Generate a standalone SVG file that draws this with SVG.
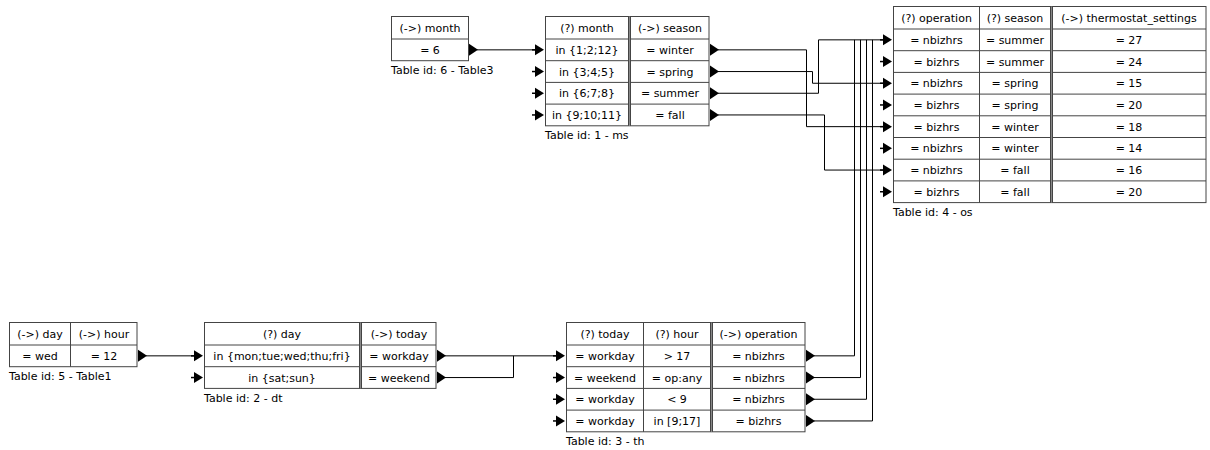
<svg xmlns="http://www.w3.org/2000/svg" xmlns:xlink="http://www.w3.org/1999/xlink" width="1210" height="450" viewBox="0 0 1210 450">
  <style>
    text { font-family: "DejaVu Sans", "Liberation Sans", sans-serif; font-size: 11px; fill: #000; }
    .c { text-anchor: middle; }
    .frame { fill: #fff; stroke: #444; stroke-width: 1; }
    .sep { stroke: #444; stroke-width: 1; fill: none; }
    .dbl { stroke: #888; stroke-width: 1; fill: none; }
    .wire { stroke: #000; stroke-width: 1; fill: none; }
    .tip { fill: #000; }
  </style>
  <defs>
    <!-- input marker: short tail plus a filled triangle, tip at the origin -->
    <g id="inArrow">
      <line x1="-13" y1="0" x2="-9" y2="0" stroke="#000" stroke-width="1.5"/>
      <path class="tip" d="M-10,-5.5 L-1,0 L-10,5.5 Z"/>
    </g>
    <!-- output marker: larger filled triangle, base at the origin -->
    <path id="outArrow" class="tip" d="M1,-6 L10,0 L1,6 Z"/>
  </defs>

  <!-- connectors -->
  <g id="connectors">
    <path class="wire" d="M477,49.85 H537"/>
    <path class="wire" d="M718,49.85 H806.5 V126.65 H885"/>
    <path class="wire" d="M718,71.55 H812.5 V83.25 H885"/>
    <path class="wire" d="M718,93.25 H818.5 V39.85 H885"/>
    <path class="wire" d="M718,114.95 H824.5 V170.05 H885"/>
    <path class="wire" d="M146,355.85 H196"/>
    <path class="wire" d="M445,355.85 H558"/>
    <path class="wire" d="M445,377.55 H513.5 V355.85"/>
    <path class="wire" d="M814,355.85 H854.5 V39.85"/>
    <path class="wire" d="M814,377.55 H860.5 V39.85"/>
    <path class="wire" d="M814,399.25 H866.5 V39.85"/>
    <path class="wire" d="M814,420.95 H872.5 V39.85"/>
  </g>

  <!-- Table 6: month -->
  <g id="table6">
    <rect class="frame" x="391.5" y="16.5" width="77" height="44.2"/>
    <line class="sep" x1="391.5" y1="39" x2="468.5" y2="39"/>
    <text class="c" x="430" y="31.5">(-&gt;) month</text>
    <text class="c" x="430" y="54">= 6</text>
    <use xlink:href="#outArrow" x="468" y="49.85"/>
    <text x="391" y="73.5">Table id: 6 - Table3</text>
  </g>

  <!-- Table 1: ms -->
  <g id="table1">
    <rect class="frame" x="545.5" y="16.5" width="163.5" height="109.3"/>
    <path class="sep" d="M545.5,39 H709 M545.5,60.7 H709 M545.5,82.4 H709 M545.5,104.1 H709"/>
    <line class="sep" x1="628.5" y1="16.5" x2="628.5" y2="125.8"/>
    <line class="dbl" x1="629.5" y1="16.5" x2="629.5" y2="125.8"/>
    <line class="sep" x1="630.5" y1="16.5" x2="630.5" y2="125.8"/>
    <text class="c" x="587" y="31.5">(?) month</text>
    <text class="c" x="670" y="31.5">(-&gt;) season</text>
    <text class="c" x="587" y="53.85">in {1;2;12}</text>
    <text class="c" x="670" y="53.85">= winter</text>
    <text class="c" x="587" y="75.55">in {3;4;5}</text>
    <text class="c" x="670" y="75.55">= spring</text>
    <text class="c" x="587" y="97.25">in {6;7;8}</text>
    <text class="c" x="670" y="97.25">= summer</text>
    <text class="c" x="587" y="118.95">in {9;10;11}</text>
    <text class="c" x="670" y="118.95">= fall</text>
    <use xlink:href="#inArrow" x="545" y="49.85"/>
    <use xlink:href="#inArrow" x="545" y="71.55"/>
    <use xlink:href="#inArrow" x="545" y="93.25"/>
    <use xlink:href="#inArrow" x="545" y="114.95"/>
    <use xlink:href="#outArrow" x="709" y="49.85"/>
    <use xlink:href="#outArrow" x="709" y="71.55"/>
    <use xlink:href="#outArrow" x="709" y="93.25"/>
    <use xlink:href="#outArrow" x="709" y="114.95"/>
    <text x="545" y="138.5">Table id: 1 - ms</text>
  </g>

  <!-- Table 4: os -->
  <g id="table4">
    <rect class="frame" x="893.5" y="6.5" width="312.5" height="196.1"/>
    <path class="sep" d="M893.5,29 H1206 M893.5,50.7 H1206 M893.5,72.4 H1206 M893.5,94.1 H1206 M893.5,115.8 H1206 M893.5,137.5 H1206 M893.5,159.2 H1206 M893.5,180.9 H1206"/>
    <line class="sep" x1="979.5" y1="6.5" x2="979.5" y2="202.6"/>
    <line class="sep" x1="1050.5" y1="6.5" x2="1050.5" y2="202.6"/>
    <line class="dbl" x1="1051.5" y1="6.5" x2="1051.5" y2="202.6"/>
    <line class="sep" x1="1052.5" y1="6.5" x2="1052.5" y2="202.6"/>
    <text class="c" x="936.5" y="21.5">(?) operation</text>
    <text class="c" x="1015" y="21.5">(?) season</text>
    <text class="c" x="1129" y="21.5">(-&gt;) thermostat_settings</text>
    <g>
      <text class="c" x="936.5" y="43.85">= nbizhrs</text>
      <text class="c" x="1015" y="43.85">= summer</text>
      <text class="c" x="1129" y="43.85">= 27</text>
      <text class="c" x="936.5" y="65.55">= bizhrs</text>
      <text class="c" x="1015" y="65.55">= summer</text>
      <text class="c" x="1129" y="65.55">= 24</text>
      <text class="c" x="936.5" y="87.25">= nbizhrs</text>
      <text class="c" x="1015" y="87.25">= spring</text>
      <text class="c" x="1129" y="87.25">= 15</text>
      <text class="c" x="936.5" y="108.95">= bizhrs</text>
      <text class="c" x="1015" y="108.95">= spring</text>
      <text class="c" x="1129" y="108.95">= 20</text>
      <text class="c" x="936.5" y="130.65">= bizhrs</text>
      <text class="c" x="1015" y="130.65">= winter</text>
      <text class="c" x="1129" y="130.65">= 18</text>
      <text class="c" x="936.5" y="152.35">= nbizhrs</text>
      <text class="c" x="1015" y="152.35">= winter</text>
      <text class="c" x="1129" y="152.35">= 14</text>
      <text class="c" x="936.5" y="174.05">= nbizhrs</text>
      <text class="c" x="1015" y="174.05">= fall</text>
      <text class="c" x="1129" y="174.05">= 16</text>
      <text class="c" x="936.5" y="195.75">= bizhrs</text>
      <text class="c" x="1015" y="195.75">= fall</text>
      <text class="c" x="1129" y="195.75">= 20</text>
    </g>
    <use xlink:href="#inArrow" x="893" y="39.85"/>
    <use xlink:href="#inArrow" x="893" y="61.55"/>
    <use xlink:href="#inArrow" x="893" y="83.25"/>
    <use xlink:href="#inArrow" x="893" y="104.95"/>
    <use xlink:href="#inArrow" x="893" y="126.65"/>
    <use xlink:href="#inArrow" x="893" y="148.35"/>
    <use xlink:href="#inArrow" x="893" y="170.05"/>
    <use xlink:href="#inArrow" x="893" y="191.75"/>
    <text x="893" y="215.5">Table id: 4 - os</text>
  </g>

  <!-- Table 5: day / hour -->
  <g id="table5">
    <rect class="frame" x="9.5" y="322.5" width="127.5" height="44.2"/>
    <line class="sep" x1="9.5" y1="345" x2="137" y2="345"/>
    <line class="sep" x1="70.5" y1="322.5" x2="70.5" y2="366.7"/>
    <text class="c" x="40" y="337.5">(-&gt;) day</text>
    <text class="c" x="104" y="337.5">(-&gt;) hour</text>
    <text class="c" x="40" y="359.85">= wed</text>
    <text class="c" x="104" y="359.85">= 12</text>
    <use xlink:href="#outArrow" x="137" y="355.85"/>
    <text x="9" y="379.5">Table id: 5 - Table1</text>
  </g>

  <!-- Table 2: dt -->
  <g id="table2">
    <rect class="frame" x="204.5" y="322.5" width="231.5" height="65.9"/>
    <path class="sep" d="M204.5,345 H436 M204.5,366.7 H436"/>
    <line class="sep" x1="359.5" y1="322.5" x2="359.5" y2="388.4"/>
    <line class="dbl" x1="360.5" y1="322.5" x2="360.5" y2="388.4"/>
    <line class="sep" x1="361.5" y1="322.5" x2="361.5" y2="388.4"/>
    <text class="c" x="282" y="337.5">(?) day</text>
    <text class="c" x="399" y="337.5">(-&gt;) today</text>
    <text class="c" x="282" y="359.85">in {mon;tue;wed;thu;fri}</text>
    <text class="c" x="399" y="359.85">= workday</text>
    <text class="c" x="282" y="381.55">in {sat;sun}</text>
    <text class="c" x="399" y="381.55">= weekend</text>
    <use xlink:href="#inArrow" x="204" y="355.85"/>
    <use xlink:href="#inArrow" x="204" y="377.55"/>
    <use xlink:href="#outArrow" x="436" y="355.85"/>
    <use xlink:href="#outArrow" x="436" y="377.55"/>
    <text x="204" y="401.5">Table id: 2 - dt</text>
  </g>

  <!-- Table 3: th -->
  <g id="table3">
    <rect class="frame" x="566.5" y="322.5" width="238.5" height="109.3"/>
    <path class="sep" d="M566.5,345 H805 M566.5,366.7 H805 M566.5,388.4 H805 M566.5,410.1 H805"/>
    <line class="sep" x1="643.5" y1="322.5" x2="643.5" y2="431.8"/>
    <line class="sep" x1="710.5" y1="322.5" x2="710.5" y2="431.8"/>
    <line class="dbl" x1="711.5" y1="322.5" x2="711.5" y2="431.8"/>
    <line class="sep" x1="712.5" y1="322.5" x2="712.5" y2="431.8"/>
    <text class="c" x="605" y="337.5">(?) today</text>
    <text class="c" x="677" y="337.5">(?) hour</text>
    <text class="c" x="758.5" y="337.5">(-&gt;) operation</text>
    <text class="c" x="605" y="359.85">= workday</text>
    <text class="c" x="677" y="359.85">&gt; 17</text>
    <text class="c" x="758.5" y="359.85">= nbizhrs</text>
    <text class="c" x="605" y="381.55">= weekend</text>
    <text class="c" x="677" y="381.55">= op:any</text>
    <text class="c" x="758.5" y="381.55">= nbizhrs</text>
    <text class="c" x="605" y="403.25">= workday</text>
    <text class="c" x="677" y="403.25">&lt; 9</text>
    <text class="c" x="758.5" y="403.25">= nbizhrs</text>
    <text class="c" x="605" y="424.95">= workday</text>
    <text class="c" x="677" y="424.95">in [9;17]</text>
    <text class="c" x="758.5" y="424.95">= bizhrs</text>
    <use xlink:href="#inArrow" x="566" y="355.85"/>
    <use xlink:href="#inArrow" x="566" y="377.55"/>
    <use xlink:href="#inArrow" x="566" y="399.25"/>
    <use xlink:href="#inArrow" x="566" y="420.95"/>
    <use xlink:href="#outArrow" x="805" y="355.85"/>
    <use xlink:href="#outArrow" x="805" y="377.55"/>
    <use xlink:href="#outArrow" x="805" y="399.25"/>
    <use xlink:href="#outArrow" x="805" y="420.95"/>
    <text x="566" y="445">Table id: 3 - th</text>
  </g>
</svg>
